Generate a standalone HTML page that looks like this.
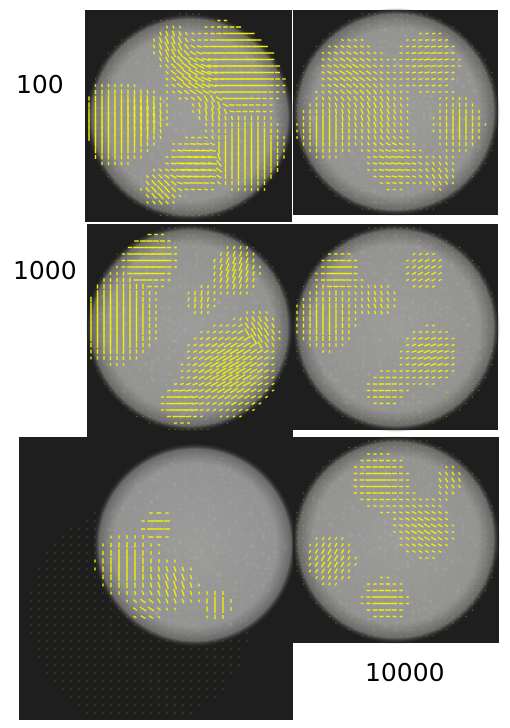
<!DOCTYPE html>
<html><head><meta charset="utf-8">
<style>
html,body{margin:0;padding:0;background:#fff;width:510px;height:728px;overflow:hidden}
.lbl{position:absolute;font-family:"DejaVu Sans","Liberation Sans",sans-serif;font-size:25px;color:#000}
svg{position:absolute;left:0;top:0}
</style></head>
<body>
<div class="lbl" style="left:16px;top:70px">100</div>
<div class="lbl" style="left:13px;top:256px">1000</div>
<div class="lbl" style="left:365px;top:658px">10000</div>
<svg id="s" width="510" height="728">
<defs>
<radialGradient id="g" cx="50%" cy="50%" r="50%">
<stop offset="0" stop-color="#9c9c9c"/><stop offset="0.8" stop-color="#939393"/><stop offset="0.94" stop-color="#6a6a6a"/><stop offset="1" stop-color="#2a2a2a" stop-opacity="0"/>
</radialGradient>
<filter id="n" x="0" y="0" width="100%" height="100%"><feTurbulence baseFrequency="0.18" numOctaves="3" seed="5"/><feColorMatrix type="matrix" values="0 0 0 0 1 0 0 0 0 1 0 0 0 0 1 0 0 0 0.7 -0.25"/><feComposite in2="SourceGraphic" operator="in"/></filter>
</defs>
</svg>
<script>
const panelNames=["panel-100-left","panel-100-right","panel-1000-left","panel-1000-right","panel-10000-left","panel-10000-right"];
const panelRects=[[85,10,207,212],[293,10,205,205],[87,224,206,213],[293,224,205,206],[19,437,274,283],[293,437,206,206]];
const circles=[[190,117,100],[396,112,100],[190,328,100],[396,328,100],[195,545,98],[396,540,100]];
const gridCircles=[[190,117,104],[396,112,104],[190,328,104],[396,328,104],[140,615,112],[396,540,104]];
const gridSpacing=[6.5,6.5,6.5,6.5,8,6.5];
// domains: [cx, cy, radius, angleDeg, length]
const domains=[
 [[240,65,45,0,12],[190,75,22,40,10],[170,45,18,70,9],[112,125,38,90,12],[145,115,20,80,10],[250,155,34,90,11],[195,165,25,5,12],[160,190,18,50,9],[210,110,15,80,6]],
 [[350,70,35,30,7],[430,60,35,-10,6],[325,130,32,90,7],[380,115,30,70,6],[460,125,28,90,7],[395,165,28,10,7],[440,175,20,60,5]],
 [[115,320,40,90,12],[150,258,25,0,11],[230,370,42,-30,12],[235,270,25,110,9],[180,405,18,0,10],[260,330,18,60,8],[200,300,15,100,6]],
 [[325,320,35,90,7],[340,270,22,0,7],[425,270,25,150,6],[430,355,32,-20,7],[385,390,22,0,6],[380,300,20,70,5]],
 [[125,565,30,90,10],[158,525,16,0,9],[175,585,24,70,9],[218,605,15,90,10],[145,610,15,30,7]],
 [[380,480,32,0,7],[330,560,28,-60,7],[425,530,32,30,7],[385,600,25,0,7],[450,480,18,60,5]]
];
const S=document.getElementById('s'),NS='http://www.w3.org/2000/svg';
function mk(t,a){const e=document.createElementNS(NS,t);for(const k in a)e.setAttribute(k,a[k]);S.appendChild(e);return e;}
panelRects.forEach((r,i)=>{
 const g=mk('rect',{x:r[0],y:r[1],width:r[2],height:r[3],fill:'#1e1e1e'});
 
 
 const c=circles[i];
 const ci=mk('circle',{cx:c[0],cy:c[1],r:c[2]+4,fill:'url(#g)'});
 
 
 mk('circle',{cx:c[0],cy:c[1],r:c[2]-6,fill:'#fff',filter:'url(#n)',opacity:0.35});
 const gc=gridCircles[i];const sp=gridSpacing[i];
 for(let y=r[1]+4;y<r[1]+r[3]-2;y+=sp)for(let x=r[0]+4;x<r[0]+r[2]-2;x+=sp){
  const dx=x-gc[0],dy=y-gc[1];if(dx*dx+dy*dy>gc[2]*gc[2])continue;
  let vx=0,vy=0,W=0,Lm=0;
  domains[i].forEach(d=>{const q=Math.hypot(x-d[0],y-d[1])/d[2];const w=Math.exp(-q*q*1.2);
   const a=d[3]*Math.PI/180*2;vx+=w*Math.cos(a);vy+=w*Math.sin(a);W+=w;Lm+=w*d[4];});
  const ang=Math.atan2(vy,vx)/2;
  let L=Math.min(W,1)*(W>0?Lm/W:0);
  const strong=L>2.5;
  if(!strong)L=1.1;
  const hx=Math.cos(ang)*L/2,hy=Math.sin(ang)*L/2;
  const a=mk('line',{x1:x-hx,y1:y-hy,x2:x+hx,y2:y+hy,stroke:strong?'#f0f000':'#a8a800','stroke-width':strong?1.4:0.8,opacity:strong?1:0.8});
  
  
 }
});
</script>
</body></html>
